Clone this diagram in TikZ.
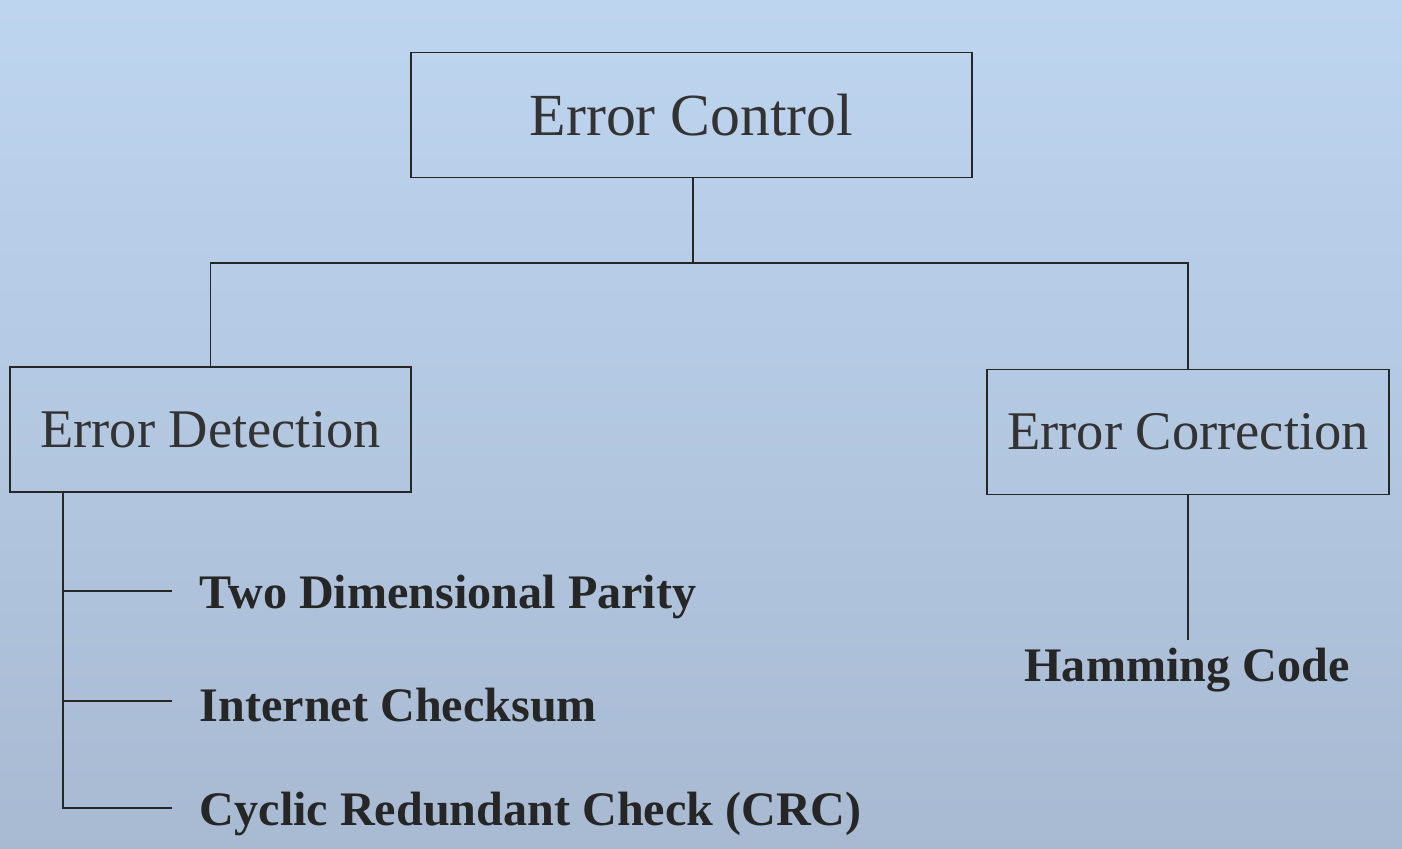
\documentclass[tikz,border=0pt]{standalone}
\usepackage{fontspec}
\setmainfont{Liberation Serif}
\usetikzlibrary{positioning}

\begin{document}
\begin{tikzpicture}[x=0.02cm, y=-0.02cm,
  link/.style={draw=black!85, line width=1.1pt},
  box/.style={rectangle, draw=black!85, line width=1.1pt, minimum height=2.5cm, font=\fontsize{31}{36}\selectfont, text=black!80},
  leaf/.style={anchor=west, inner xsep=0.55cm, font=\fontsize{27.4}{31}\selectfont\bfseries, text=black!85}]
\shade[top color={rgb,255:red,190;green,213;blue,240}, bottom color={rgb,255:red,168;green,186;blue,210}] (0,0) rectangle (1402,848);
\useasboundingbox (0,0) rectangle (1402,848);

\node[box, minimum width=11.22cm, font=\fontsize{34}{38}\selectfont] (ctrl) at (691.5,115) {Error Control};
\node[box, minimum width=8.02cm] (det) at (210.5,429.5) {Error Detection};
\node[box, minimum width=8.04cm] (corr) at (1188,432) {Error Correction};

\node[leaf] (p1) at (172,597) {Two Dimensional Parity};
\node[leaf] (p2) at (172,705) {Internet Checksum};
\node[leaf] (p3) at (172,814) {Cyclic Redundant Check (CRC)};
\node[leaf, anchor=north, inner sep=0pt] (ham) at (1187,648) {Hamming Code};

\coordinate (split) at (693,263);
\coordinate (spine) at (63,492);

\draw[link] (ctrl.south -| split) -- (split);
\draw[link] (split) -| (det.north);
\draw[link] (split) -| (corr.north);
\draw[link] (spine) |- ([yshift=0.12cm]p3.west);
\draw[link] ([yshift=0.12cm]spine |- p1.west) -- ([yshift=0.12cm]p1.west);
\draw[link] ([yshift=0.08cm]spine |- p2.west) -- ([yshift=0.08cm]p2.west);
\draw[link] (corr.south) -- ([yshift=0.16cm]corr.south |- ham.north);
\end{tikzpicture}
\end{document}
